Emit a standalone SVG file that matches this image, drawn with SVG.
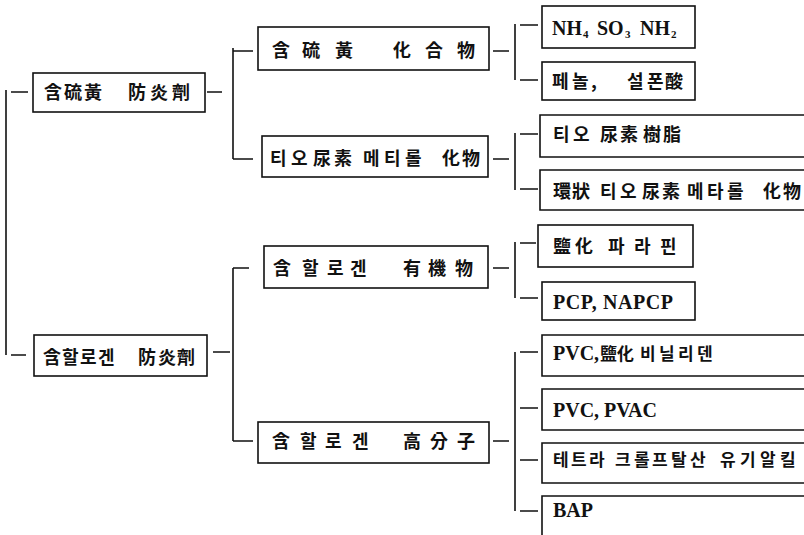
<svg xmlns="http://www.w3.org/2000/svg" width="804" height="535" viewBox="0 0 804 535">
<style>
.b{fill:none;stroke:#111;stroke-width:1.6}
.c{fill:none;stroke:#111;stroke-width:1.6}
.k{font-family:"Noto Sans CJK KR","Noto Sans CJK SC",sans-serif;font-size:18px;font-weight:bold;fill:#111}
.s{font-family:"Liberation Serif","Noto Sans CJK KR",serif;font-size:20px;font-weight:bold;fill:#111}
.sm{font-size:17px}
.sub{font-size:11px}
</style>
<rect width="804" height="535" fill="#fff"/>
<g id="connectors">
<path class="c" d="M6 90V355M11 92H28M11 355H26"/>
<path class="c" d="M207 92H222M233 48V159M233 51H253M233 159H253"/>
<path class="c" d="M213 352H230M233 268V441M233 268H249M233 441H253"/>
<path class="c" d="M493 51H509M515 24V80M520 25H538M520 80H538"/>
<path class="c" d="M493 159H509M515 133V190M520 134H538M520 189H538"/>
<path class="c" d="M493 268H509M515 242V298M520 243H536M520 298H538"/>
<path class="c" d="M493 441H509M515 352V511M520 352H538M520 408H538M520 460H538M520 511H538"/>
</g>
<g id="n-sulfur-fr"><rect class="b" x="33" y="73" width="172" height="39"/>
<text class="k" x="44 64 84 104 128 150 172" y="99">含硫黃 防炎劑</text></g>
<g id="n-halogen-fr"><rect class="b" x="34" y="335" width="173" height="41"/>
<text class="k" x="43 62 80 98 118 138 158 177" y="364">含할로겐 防炎劑</text></g>
<g id="n-sulfur-comp"><rect class="b" x="258" y="27" width="231" height="43"/>
<text class="k" x="272 302 335 360 393 425 457" y="57">含硫黃 化合物</text></g>
<g id="n-thiourea-methylol"><rect class="b" x="262" y="136" width="226" height="41"/>
<text class="k" x="270 291 305 313 334 355 363 384 405 430 442 462" y="165">티오 尿素 메티롤 化物</text></g>
<g id="n-halogen-org"><rect class="b" x="264" y="246" width="224" height="42"/>
<text class="k" x="273 302 327 350 380 403 428 455" y="275">含할로겐 有機物</text></g>
<g id="n-halogen-poly"><rect class="b" x="258" y="422" width="231" height="41"/>
<text class="k" x="272 300 325 352 380 403 430 457" y="448">含할로겐 高分子</text></g>
<g id="n-nh4"><rect class="b" x="542" y="6" width="153" height="42"/>
<text class="s" y="35"><tspan x="552">NH</tspan><tspan class="sub" x="583" dy="3">4</tspan><tspan x="597" dy="-3">SO</tspan><tspan class="sub" x="625" dy="3">3</tspan><tspan x="640" dy="-3">NH</tspan><tspan class="sub" x="671" dy="3">2</tspan></text></g>
<g id="n-phenol"><rect class="b" x="542" y="62" width="153" height="38"/>
<text class="k" x="552 572 591 605 627 647 665" y="88">페놀, 설폰酸</text></g>
<g id="n-thiourea-resin"><path class="b" d="M804 115H540V157H804"/>
<text class="k" x="553 573 590 600 620 635 643 663" y="141">티오 尿素 樹脂</text></g>
<g id="n-cyclic"><path class="b" d="M804 170H540V210H804"/>
<text class="k" x="553 572 590 600 620 635 642 662 680 687 707 727 750 763 783" y="198">環狀 티오 尿素 메타롤 化物</text></g>
<g id="n-chloroparaffin"><rect class="b" x="538" y="225" width="155" height="42"/>
<text class="k" x="553 575 600 608 634 660" y="253">鹽化 파라핀</text></g>
<g id="n-pcp"><rect class="b" x="542" y="282" width="153" height="38"/>
<text class="s" x="553" y="309" textLength="120" lengthAdjust="spacing">PCP, NAPCP</text></g>
<g id="n-pvc-vinylidene"><path class="b" d="M804 335H542V376H804"/>
<text class="s" x="553" y="360">PVC,</text>
<text class="k sm" x="600 617 634 640 659 678 697" y="360">鹽化 비닐리덴</text></g>
<g id="n-pvc-pvac"><path class="b" d="M804 389H542V430H804"/>
<text class="s" x="553" y="417" textLength="104" lengthAdjust="spacing">PVC, PVAC</text></g>
<g id="n-tetra"><path class="b" d="M804 443H542V483H804"/>
<text class="k sm" x="553 571 589 605 615 634 652 671 690 710 720 740 760 780" y="466">테트라 크롤프탈산 유기알킬</text></g>
<g id="n-bap"><path class="b" d="M804 496H542V540"/>
<text class="s" x="553" y="517">BAP</text></g>
</svg>
